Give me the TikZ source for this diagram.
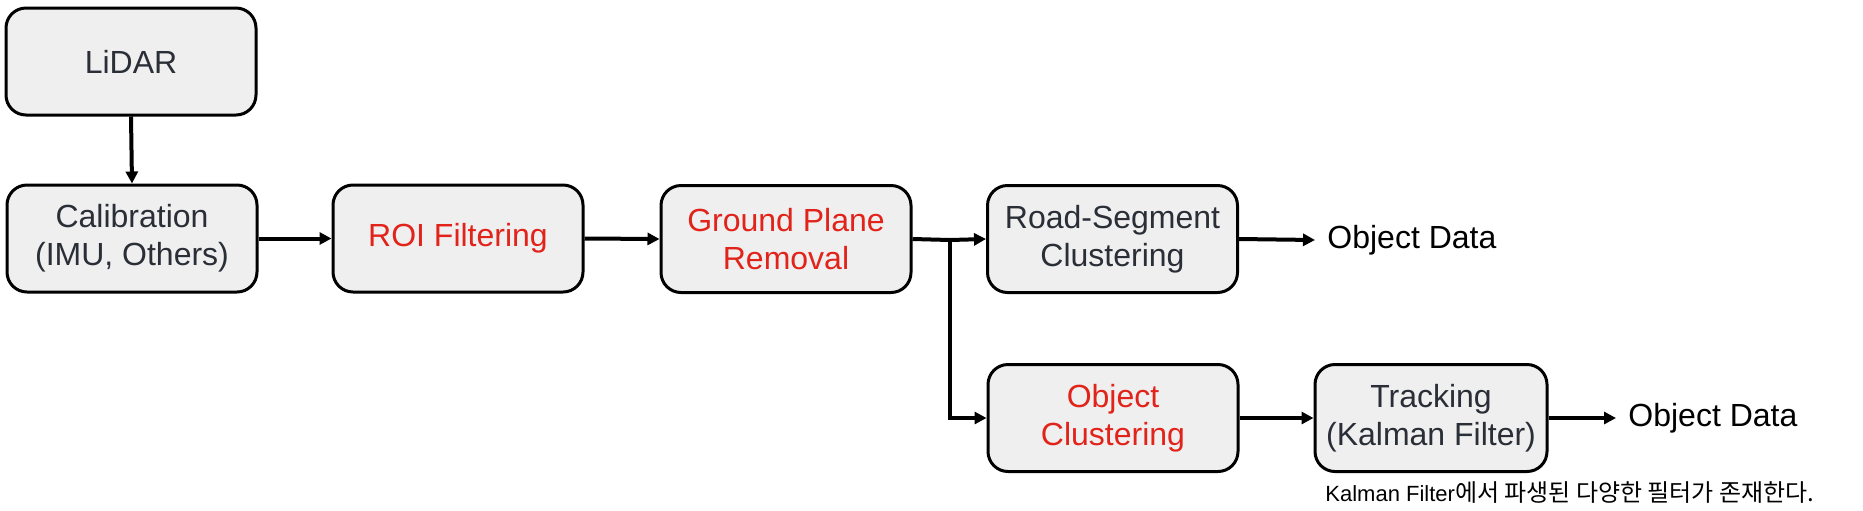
\documentclass[tikz,border=0pt]{standalone}
\usepackage{fontspec}
\setmainfont{Liberation Sans}
\newfontfamily\krfont{Noto Sans CJK KR}
\usetikzlibrary{arrows.meta}
\definecolor{boxfill}{HTML}{EFEFF0}
\definecolor{boxtext}{HTML}{2A2E36}
\definecolor{redtext}{HTML}{E2231A}
\tikzset{
  procbox/.style={draw=black, line width=1.5pt, fill=boxfill, rounded corners=10pt,
    minimum width=125pt, minimum height=53.5pt, inner sep=0pt, align=center,
    font=\fontsize{16}{19}\selectfont, text=boxtext},
  redbox/.style={procbox, text=redtext},
  conn/.style={line width=2pt, -{Triangle[length=6pt,width=6pt]}},
  outtext/.style={font=\fontsize{16}{19}\selectfont, text=black, anchor=west, inner ysep=0pt, inner xsep=6pt}
}
\begin{document}
\begin{tikzpicture}[x=0.5pt,y=-0.5pt]
\useasboundingbox (0,0) rectangle (1863,510);
\node[procbox] (lidar) at (131,61.5) {LiDAR};
\node[procbox] (calib) at (132,238.5) {Calibration\\(IMU, Others)};
\node[redbox] (roi) at (458,238.5) {ROI Filtering};
\node[redbox] (ground) at (786,239) {Ground Plane\\Removal};
\node[procbox] (road) at (1112.5,239) {Road-Segment\\Clustering};
\node[redbox] (objc) at (1113,418) {Object\\Clustering};
\node[procbox, minimum width=116pt] (track) at (1431,418) {Tracking\\(Kalman Filter)};
\node[outtext] (out1) at (1315,240) {Object Data};
\node[outtext] (out2) at (1616,418) {Object Data};
\node[anchor=north west, inner sep=0pt, font=\fontsize{11}{12}\selectfont] (note) at (1325,481)
  {Kalman Filter{\krfont\fontsize{12}{12}\selectfont 에서 파생된 다양한 필터가 존재한다.}};
\coordinate (jn) at (950,240);
\draw[conn] (lidar.south) -- (calib.north);
\draw[conn] (calib.east) -- (roi.west);
\draw[conn] (roi.east) -- (ground.west);
\draw[line width=2pt] (ground.east) -- (jn);
\draw[conn] (jn) -- (road.west);
\draw[conn] (jn) |- (objc.west);
\draw[conn] (road.east) -- (out1.west);
\draw[conn] (objc.east) -- (track.west);
\draw[conn] (track.east) -- (out2.west);
\end{tikzpicture}
\end{document}
